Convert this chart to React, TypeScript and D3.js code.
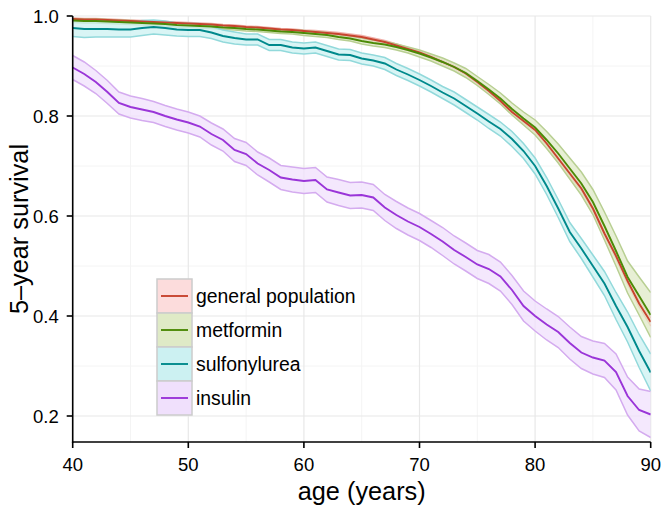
import React from "react";
import * as d3 from "d3";

// ages 40..90, one value per year
const ages = d3.range(40, 91);

const generalPop = [
  0.994, 0.993, 0.993, 0.992, 0.991, 0.990, 0.989, 0.988, 0.987, 0.986,
  0.985, 0.984, 0.983, 0.981, 0.980, 0.978, 0.977, 0.975, 0.973, 0.972,
  0.970, 0.968, 0.966, 0.964, 0.961, 0.958, 0.953, 0.948, 0.941, 0.934,
  0.927, 0.918, 0.908, 0.898, 0.885, 0.868, 0.850, 0.830, 0.808, 0.790,
  0.772, 0.745, 0.715, 0.685, 0.655, 0.615, 0.565, 0.520, 0.470, 0.425,
  0.388,
];
const generalPopCI = [
  0.002, 0.002, 0.002, 0.002, 0.002, 0.002, 0.002, 0.002, 0.002, 0.002,
  0.002, 0.002, 0.002, 0.002, 0.002, 0.002, 0.002, 0.002, 0.002, 0.002,
  0.002, 0.003, 0.003, 0.003, 0.003, 0.003, 0.003, 0.003, 0.003, 0.003,
  0.003, 0.003, 0.003, 0.003, 0.003, 0.004, 0.004, 0.004, 0.004, 0.004,
  0.004, 0.004, 0.004, 0.005, 0.005, 0.005, 0.005, 0.006, 0.006, 0.007,
  0.008,
];

const metformin = [
  0.991, 0.990, 0.990, 0.989, 0.988, 0.987, 0.986, 0.985, 0.984, 0.982,
  0.981, 0.980, 0.979, 0.977, 0.976, 0.974, 0.973, 0.971, 0.969, 0.968,
  0.966, 0.964, 0.962, 0.958, 0.955, 0.950, 0.946, 0.943, 0.938, 0.932,
  0.925, 0.917, 0.908, 0.898, 0.886, 0.870, 0.853, 0.835, 0.814, 0.795,
  0.777, 0.752, 0.725, 0.695, 0.665, 0.628, 0.580, 0.530, 0.478, 0.440,
  0.402,
];
const metforminCI = [
  0.004, 0.004, 0.004, 0.004, 0.004, 0.004, 0.004, 0.004, 0.004, 0.004,
  0.004, 0.004, 0.004, 0.004, 0.004, 0.004, 0.004, 0.004, 0.004, 0.004,
  0.005, 0.005, 0.005, 0.005, 0.005, 0.006, 0.006, 0.006, 0.006, 0.006,
  0.007, 0.007, 0.008, 0.008, 0.009, 0.009, 0.010, 0.011, 0.012, 0.013,
  0.015, 0.017, 0.019, 0.021, 0.023, 0.025, 0.028, 0.030, 0.032, 0.038,
  0.045,
];

const sulfonylurea = [
  0.976, 0.974, 0.974, 0.974, 0.973, 0.973, 0.976, 0.978, 0.976, 0.973,
  0.972, 0.972, 0.967, 0.960, 0.956, 0.953, 0.953, 0.942, 0.942, 0.937,
  0.935, 0.937, 0.930, 0.923, 0.922, 0.915, 0.911, 0.905, 0.893, 0.883,
  0.872, 0.860, 0.847, 0.835, 0.820, 0.805, 0.789, 0.774, 0.754, 0.730,
  0.700, 0.660, 0.615, 0.568, 0.535, 0.500, 0.465, 0.420, 0.378, 0.330,
  0.287,
];
const sulfonylureaCI = [
  0.017, 0.017, 0.016, 0.016, 0.015, 0.015, 0.015, 0.014, 0.014, 0.013,
  0.013, 0.013, 0.012, 0.012, 0.012, 0.011, 0.011, 0.011, 0.011, 0.011,
  0.011, 0.011, 0.011, 0.011, 0.011, 0.011, 0.011, 0.012, 0.012, 0.012,
  0.012, 0.012, 0.012, 0.013, 0.013, 0.013, 0.014, 0.014, 0.015, 0.015,
  0.016, 0.017, 0.018, 0.019, 0.020, 0.022, 0.024, 0.027, 0.030, 0.033,
  0.037,
];

const insulin = [
  0.897, 0.884, 0.868, 0.848, 0.826, 0.818, 0.813, 0.808, 0.800, 0.793,
  0.787, 0.779, 0.764, 0.752, 0.732, 0.724, 0.705, 0.692, 0.677, 0.673,
  0.670, 0.672, 0.653, 0.647, 0.641, 0.642, 0.637, 0.617, 0.602, 0.589,
  0.578, 0.564, 0.549, 0.532, 0.518, 0.503, 0.494, 0.479, 0.452, 0.420,
  0.400, 0.383, 0.368, 0.346, 0.327, 0.317, 0.311, 0.288, 0.240, 0.212,
  0.203,
];
const insulinCI = [
  0.024, 0.024, 0.023, 0.023, 0.022, 0.022, 0.022, 0.021, 0.021, 0.021,
  0.021, 0.021, 0.022, 0.022, 0.023, 0.023, 0.023, 0.024, 0.024, 0.025,
  0.025, 0.025, 0.025, 0.026, 0.026, 0.026, 0.026, 0.026, 0.027, 0.027,
  0.027, 0.027, 0.028, 0.028, 0.028, 0.028, 0.029, 0.029, 0.029, 0.030,
  0.030, 0.031, 0.031, 0.032, 0.032, 0.033, 0.034, 0.036, 0.038, 0.042,
  0.046,
];

const seriesNames = ["general population", "metformin", "sulfonylurea", "insulin"];
const seriesValues = [generalPop, metformin, sulfonylurea, insulin];
const seriesCI = [generalPopCI, metforminCI, sulfonylureaCI, insulinCI];

const lineColors = ["#c8432e", "#4b8a06", "#00898c", "#9a35d8"];
const fillColors = ["#fcdcdc", "#dfeac6", "#ccf1f2", "#f0e0fc"];
const edgeColors = ["#f0b0ab", "#b8cf92", "#92d9db", "#d4abef"];

const xTicks = [40, 50, 60, 70, 80, 90];
const xMinor = [45, 55, 65, 75, 85];
const yTicks = [0.2, 0.4, 0.6, 0.8, 1.0];
const yMinor = [0.3, 0.5, 0.7, 0.9];

const W = 664, H = 508;
const m = { left: 72.7, right: 664 - 650.7, top: 16, bottom: 508 - 442 };

export default function App() {
  const x = d3.scaleLinear().domain([40, 90]).range([m.left, W - m.right]);
  const y = d3.scaleLinear().domain([0.148, 1.0]).range([H - m.bottom, m.top]);

  const rows = seriesValues.map((vals, s) =>
    ages.map((a, i) => ({ a, v: vals[i], lo: vals[i] - seriesCI[s][i], hi: vals[i] + seriesCI[s][i] }))
  );

  const line = d3.line<any>().x(d => x(d.a)).y(d => y(d.v));
  const area = d3.area<any>().x(d => x(d.a)).y0(d => y(d.lo)).y1(d => y(d.hi));
  const upper = d3.line<any>().x(d => x(d.a)).y(d => y(d.hi));
  const lower = d3.line<any>().x(d => x(d.a)).y(d => y(d.lo));

  const x0 = x.range()[0], x1 = x.range()[1];
  const y0 = y.range()[0], y1 = y.range()[1];
  const font = "'Liberation Sans', Arial, Helvetica, sans-serif";

  const legX = 157, legY = 279, keyW = 35, keyH = 34;

  return (
    <svg width={W} height={H} style={{ position: "absolute", left: 0, top: 0 }} fontFamily={font}>
      <rect x={0} y={0} width={W} height={H} fill="#fff" />
      <clipPath id="plot">
        <rect x={x0} y={y1} width={x1 - x0} height={y0 - y1} />
      </clipPath>
      {/* grid */}
      {xMinor.map(t => (
        <line key={"xm" + t} x1={x(t)} x2={x(t)} y1={y0} y2={y1} stroke="#f4f4f4" strokeWidth={1} />
      ))}
      {yMinor.map(t => (
        <line key={"ym" + t} x1={x0} x2={x1} y1={y(t)} y2={y(t)} stroke="#f4f4f4" strokeWidth={1} />
      ))}
      {xTicks.map(t => (
        <line key={"xg" + t} x1={x(t)} x2={x(t)} y1={y0} y2={y1} stroke="#e8e8e8" strokeWidth={1.2} />
      ))}
      {yTicks.map(t => (
        <line key={"yg" + t} x1={x0} x2={x1} y1={y(t)} y2={y(t)} stroke="#e8e8e8" strokeWidth={1.2} />
      ))}

      <g clipPath="url(#plot)">
        {rows.map((r, s) => (
          <g key={"band" + s}>
            <path d={area(r) || ""} fill={fillColors[s]} fillOpacity={0.75} />
            <path d={upper(r) || ""} fill="none" stroke={edgeColors[s]} strokeWidth={1.5} />
            <path d={lower(r) || ""} fill="none" stroke={edgeColors[s]} strokeWidth={1.5} />
          </g>
        ))}
        {rows.map((r, s) => (
          <path key={"line" + s} d={line(r) || ""} fill="none" stroke={lineColors[s]} strokeWidth={1.9} />
        ))}
      </g>

      {/* axes */}
      <line x1={x0} x2={x0} y1={y1} y2={y0 + 0.75} stroke="#000" strokeWidth={1.6} />
      <line x1={x0 - 0.75} x2={x1} y1={y0} y2={y0} stroke="#000" strokeWidth={1.6} />
      {yTicks.map(t => (
        <g key={"yt" + t}>
          <line x1={x0 - 6} x2={x0} y1={y(t)} y2={y(t)} stroke="#000" strokeWidth={1.6} />
          <text x={x0 - 14} y={y(t)} dy="0.36em" textAnchor="end" fontSize={18.5} fill="#000">
            {d3.format(".1f")(t)}
          </text>
        </g>
      ))}
      {xTicks.map(t => (
        <g key={"xt" + t}>
          <line x1={x(t)} x2={x(t)} y1={y0} y2={y0 + 6} stroke="#000" strokeWidth={1.6} />
          <text x={x(t)} y={y0 + 29} textAnchor="middle" fontSize={18.5} fill="#000">
            {t}
          </text>
        </g>
      ))}
      <text x={(x0 + x1) / 2} y={500} textAnchor="middle" fontSize={25.3} fill="#000">
        age (years)
      </text>
      <text transform={`translate(28,${(y0 + y1) / 2}) rotate(-90)`} textAnchor="middle" fontSize={25.3} fill="#000">
        5–year survival
      </text>

      {/* legend */}
      {seriesNames.map((n, s) => (
        <g key={"leg" + s} transform={`translate(${legX},${legY + s * keyH})`}>
          <rect x={0} y={0} width={keyW} height={keyH} fill={fillColors[s]} stroke="#cccccc" strokeWidth={1.5} />
          <line x1={4} x2={keyW - 4} y1={keyH / 2} y2={keyH / 2} stroke={lineColors[s]} strokeWidth={1.9} />
          <text x={keyW + 4} y={keyH / 2} dy="0.36em" fontSize={19.4} fill="#000">
            {n}
          </text>
        </g>
      ))}
    </svg>
  );
}
